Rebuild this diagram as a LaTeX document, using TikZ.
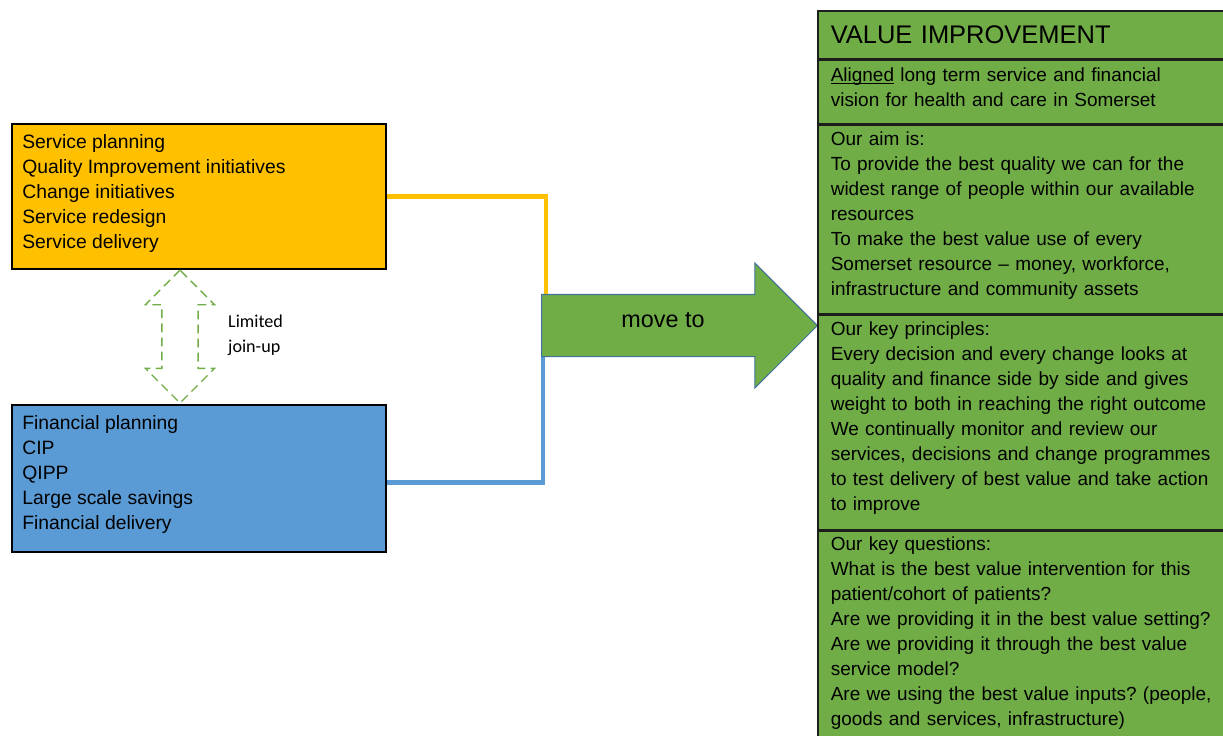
\documentclass[tikz,border=0pt]{standalone}
\usepackage{fontspec}
\setmainfont{Liberation Sans}
\newfontfamily\calfont{Carlito}
\usepackage{xcolor}
\usetikzlibrary{shapes.arrows, positioning, backgrounds}

\definecolor{svcorange}{HTML}{FFC000}
\definecolor{finblue}{HTML}{5B9BD5}
\definecolor{valgreen}{HTML}{70AD47}
\definecolor{arrowedge}{HTML}{41719C}
\definecolor{secline}{HTML}{1E1E1E}
\newcommand{\bodyfont}{\fontsize{10.8}{14.23}\selectfont\frenchspacing}
\newcommand{\listfont}{\fontsize{11}{14.23}\selectfont}
\newcommand{\titlefont}{\fontsize{14.5}{17}\selectfont}
\newcommand{\ulword}[1]{\setbox0\hbox{#1}\rlap{\rule[-1.4pt]{\wd0}{0.55pt}}#1}
\newcommand{\lift}[1]{\rule[-#1]{0pt}{#1}}

\begin{document}
\begin{tikzpicture}[
    x=0.02cm, y=-0.02cm,
    node distance=0cm,
    plan/.style={rectangle, draw=black, line width=1pt, minimum width=7.48cm, anchor=north west},
    items/.style={align=left, inner sep=0pt, font=\listfont},
    sect/.style={rectangle, draw=secline, fill=valgreen, line width=0.9pt, text width=7.9cm, inner xsep=0.26cm, align=left, font=\bodyfont},
    bigarrow/.style={single arrow, draw=arrowedge, fill=valgreen, line width=0.6pt, minimum height=5.52cm, inner xsep=0pt, inner ysep=0.61cm, single arrow head extend=0.63cm},
    joinarrow/.style={double arrow, draw=valgreen, dash pattern=on 5pt off 3pt, line width=0.8pt, minimum height=2.66cm, inner xsep=0pt, inner ysep=0.35cm, double arrow head extend=0.33cm, rotate=90},
    link/.style={line width=2.8pt}
]
    \useasboundingbox (0,0) rectangle (1223,735);

    % Service side
    \node[plan, fill=svcorange, minimum height=2.9cm] (serv) at (11,123) {};
    \node[items, below right=0.23cm and 0.22cm of serv.north west] (servlist)
        {Service planning\\Quality Improvement initiatives\\Change initiatives\\Service redesign\\Service delivery};

    % Finance side
    \node[plan, fill=finblue, minimum height=2.94cm] (fin) at (11,404) {};
    \node[items, below right=0.23cm and 0.22cm of fin.north west] (finlist)
        {Financial planning\\CIP\\QIPP\\Large scale savings\\Financial delivery};

    % Limited join-up
    \node[joinarrow] (joinup) at (180,336.5) {};
    \node[anchor=west, align=left, font=\calfont\fontsize{10.3}{14.23}\selectfont] (joinlbl) at (222,335.5) {Limited\\join-up};

    % Move to
    \node[bigarrow, anchor=tail] (move) at (541,325.5) {};
    \node[font=\fontsize{13.3}{15}\selectfont] (movelbl) at (663,320) {move to};

    \begin{scope}[on background layer]
        \draw[link, svcorange] (serv.east) -| ([xshift=0.1cm, yshift=0.61cm]move.tail);
        \draw[link, finblue] ([yshift=-0.09cm]fin.east) -| ([xshift=0.04cm, yshift=-0.61cm]move.tail);
    \end{scope}

    % Value improvement
    \node[sect, anchor=north west, minimum height=0.96cm, font=\titlefont] (valtitle) at (817,10) {VALUE IMPROVEMENT};
    \node[sect, below=of valtitle, minimum height=1.26cm] (aligned)
        {\ulword{Aligned} long term service and financial\\vision for health and care in Somerset\lift{0.2cm}};
    \node[sect, below=of aligned, minimum height=3.78cm] (aim)
        {Our aim is:\\To provide the best quality we can for the\\widest range of people within our available\\resources\\To make the best value use of every\\Somerset resource – money, workforce,\\infrastructure and community assets\lift{0.24cm}};
    \node[sect, below=of aim, minimum height=4.28cm] (principles)
        {Our key principles:\\Every decision and every change looks at\\quality and finance side by side and gives\\weight to both in reaching the right outcome\\We continually monitor and review our\\services, decisions and change programmes\\to test delivery of best value and take action\\to improve\lift{0.24cm}};
    \node[sect, below=of principles, minimum height=4.26cm] (questions)
        {Our key questions:\\What is the best value intervention for this\\patient/cohort of patients?\\Are we providing it in the best value setting?\\Are we providing it through the best value\\service model?\\Are we using the best value inputs? (people,\\goods and services, infrastructure)\lift{0.26cm}};
\end{tikzpicture}
\end{document}
